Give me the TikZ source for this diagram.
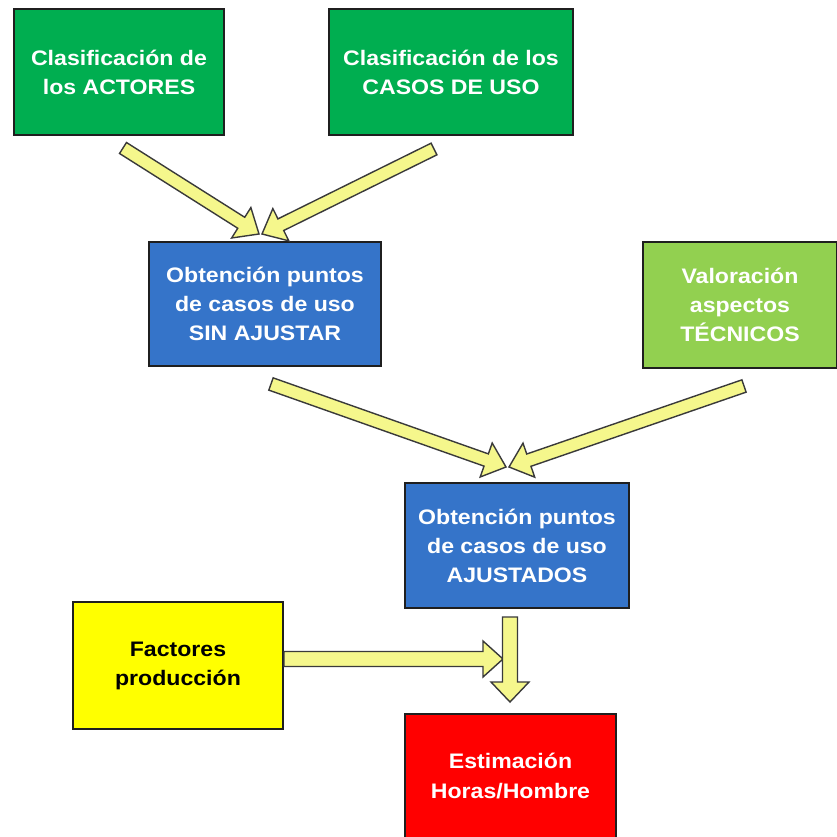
\documentclass[tikz,border=0pt]{standalone}
\usepackage{fontspec}
\setmainfont{Liberation Sans}
\newfontfamily\boxfont[FakeStretch=1.1]{Liberation Sans}
\usetikzlibrary{calc}
\definecolor{dgreen}{HTML}{00AE50}
\definecolor{lgreen}{HTML}{92D050}
\definecolor{bblue}{HTML}{3574C9}
\definecolor{byellow}{HTML}{FFFF00}
\definecolor{bred}{HTML}{FF0000}
\definecolor{afill}{HTML}{F5F78C}
\definecolor{aline}{HTML}{3A3A3A}
\tikzset{
  boxst/.style={draw=black!88, line width=2pt, align=center, inner sep=0pt,
    font=\boxfont\bfseries\fontsize{21}{29}\selectfont, text=white},
  arrowst/.style={fill=afill, draw=aline, line width=1.4pt, line join=miter},
}
% block arrow: #1 tail, #2 tip, #3 shaft half width, #4 head half width, #5 head length, #6 name
\newcommand{\blockarrow}[6]{%
  \coordinate (#6h) at ($(#2)!#5!(#1)$);
  \draw[arrowst] ($(#1)!#3!90:(#2)$) -- ($(#6h)!#3!90:(#2)$) -- ($(#6h)!#4!90:(#2)$)
    -- (#2) -- ($(#6h)!#4!-90:(#2)$) -- ($(#6h)!#3!-90:(#2)$) -- ($(#1)!#3!-90:(#2)$) -- cycle;
}
\begin{document}
\begin{tikzpicture}[x=1pt,y=-1pt]
\useasboundingbox (0,0) rectangle (836,837);
\fill[white] (0,0) rectangle (836,837);
% nodes
\node[boxst, fill=dgreen, minimum width=210pt, minimum height=126pt] (act) at (119,72) {Clasificación de\\los ACTORES};
\node[boxst, fill=dgreen, minimum width=244pt, minimum height=126pt] (cu) at (451,72) {Clasificación de los\\CASOS DE USO};
\node[boxst, fill=bblue, minimum width=232pt, minimum height=124pt] (sin) at (265,304) {Obtención puntos\\de casos de uso\\SIN AJUSTAR};
\node[boxst, fill=lgreen, minimum width=194pt, minimum height=126pt] (tec) at (740,305) {Valoración\\aspectos\\TÉCNICOS};
\node[boxst, fill=bblue, minimum width=224pt, minimum height=125pt] (aj) at (517,545.5) {Obtención puntos\\de casos de uso\\AJUSTADOS};
\node[boxst, fill=byellow, text=black, minimum width=210pt, minimum height=127pt] (fac) at (178,665.5) {Factores\\producción};
\node[boxst, fill=bred, minimum width=211pt, minimum height=124pt] (est) at (510.5,776) {Estimación\\Horas/Hombre};
% arrow coordinates
\coordinate (a1t) at (123,148);
\coordinate (a1h) at (259,234);
\coordinate (a2t) at (434,149);
\coordinate (a2h) at (262,234);
\coordinate (a3t) at (271,384);
\coordinate (a3h) at (506,467);
\coordinate (a4t) at (744,386);
\coordinate (a4h) at (509,467);
\coordinate (a5t) at (fac.east |- 0,659);
\coordinate (a5h) at (503,659);
\coordinate (a6t) at (510,617);
\coordinate (a6h) at (510,702);
\blockarrow{a1t}{a1h}{6.5pt}{18pt}{21pt}{A}
\blockarrow{a2t}{a2h}{6.5pt}{18pt}{21pt}{B}
\blockarrow{a3t}{a3h}{6.5pt}{18pt}{21pt}{C}
\blockarrow{a4t}{a4h}{6.5pt}{18pt}{21pt}{D}
\blockarrow{a5t}{a5h}{7.5pt}{18pt}{20pt}{E}
\blockarrow{a6t}{a6h}{7.5pt}{19pt}{20pt}{F}
\end{tikzpicture}
\end{document}
